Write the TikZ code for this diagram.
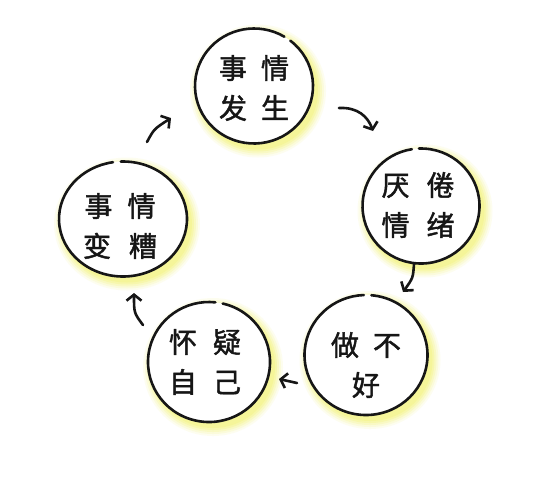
\documentclass[tikz,border=0pt]{standalone}
\usepackage{fontspec}
\newfontfamily\cjk[AutoFakeBold=1.6]{Noto Sans CJK SC}
\usetikzlibrary{arrows.meta,calc}
\definecolor{glow}{RGB}{244,244,130}
\definecolor{ink}{RGB}{22,22,22}
\tikzset{
  ring/.style={circle, minimum size=#1, inner sep=0pt},
  inkline/.style={draw=ink, line width=2.6pt, line cap=round},
  lbl/.style={font=\cjk\bfseries\fontsize{28}{40}\selectfont, text=ink, align=center, inner sep=0pt},
  flow/.style={inkline, -{Straight Barb[length=6pt,width=15pt]}},
}
% #1 name, #2 cx, #3 cy, #4 x radius, #5 y radius, #6 gap angle
\newcommand\bubble[6]{%
  \foreach \k/\o in {9/0.12,7/0.18,5/0.25,3/0.35,1/0.45}{%
    \fill[glow, opacity=\o] (#2+4,#3+5) ellipse[x radius=#4+\k, y radius=#5+\k];}
  \fill[white] (#2,#3) ellipse[x radius=#4, y radius=#5];
  \node[ring=2*#5] (#1) at (#2,#3) {};
  \draw[inkline] (#1.center) ++(#6+4:#4 and #5)
     arc[start angle=#6+4, end angle=#6+357, x radius=#4, y radius=#5];
}
\begin{document}
\begin{tikzpicture}[x=1pt,y=-1pt]
\useasboundingbox (0,0) rectangle (534,491);
\fill[white] (0,0) rectangle (534,491);

\bubble{A}{254}{86}{59}{57.5}{-56}
\bubble{B}{421}{206}{58.5}{57.5}{-96}
\bubble{C}{366}{355}{61.5}{60}{-89}
\bubble{D}{209}{362}{61}{60}{-81}
\bubble{E}{123}{219}{64}{57.5}{-96}

\node[lbl] (tA) at (254,88) {事\hspace{14pt}情\\发\hspace{14pt}生};
\node[lbl] (tB) at (418,205) {厌\hspace{17pt}倦\\情\hspace{17pt}绪};
\node[lbl] (tC) at (366,365) {做\hspace{14pt}不\\好};
\node[lbl] (tD) at (205,362) {怀\hspace{16pt}疑\\自\hspace{16pt}己};
\node[lbl] (tE) at (120,226) {事\hspace{15pt}情\\变\hspace{18pt}糟};

\coordinate (a1s) at (147,142); \coordinate (a1e) at (171,118);
\coordinate (a2s) at (339,108); \coordinate (a2e) at (373,131);
\coordinate (a3s) at (414,264); \coordinate (a3e) at (403,292);
\coordinate (a4s) at (297,383); \coordinate (a4e) at (279,379);
\coordinate (a5s) at (143,325); \coordinate (a5e) at (134,293);

\draw[flow] (a1s) .. controls (154,129) .. (a1e);
\draw[flow] (a2s) .. controls (358,107) and (368,117) .. (a2e);
\draw[flow] (a3s) .. controls (413,278) .. (a3e);
\draw[flow] (a4s) -- (a4e);
\draw[flow] (a5s) .. controls (134,313) .. (a5e);
\end{tikzpicture}
\end{document}
